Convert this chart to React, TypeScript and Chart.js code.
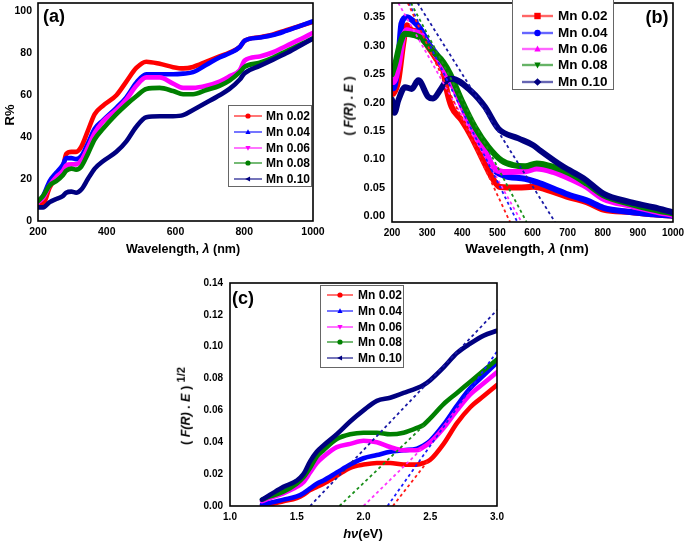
import React, { useEffect, useRef } from "react";
import { Chart, registerables } from "chart.js";
Chart.register(...registerables);

const FONT = "'Liberation Sans', Arial, Helvetica, sans-serif";

const seriesLabels = ["Mn 0.02", "Mn 0.04", "Mn 0.06", "Mn 0.08", "Mn 0.10"];
const seriesColors = ["#ff0000", "#0000ff", "#ff00ff", "#008000", "#000080"];
const tangentColors = ["#ff1a1a", "#1a1aff", "#ff33ff", "#1a8f1a", "#1a1aa6"];

// ---------- Panel (a): reflectance R% vs wavelength ----------
const wavelengthA = [200, 215, 234, 253, 273, 282, 297, 311, 326, 345, 365, 389, 428, 457, 486, 515, 554, 593, 622, 651, 690, 728, 757, 787, 801, 845, 884, 922, 961, 1000];
const reflA002 = [9, 8.5, 16, 21, 26, 32, 33, 33, 35.5, 43, 51, 55, 60, 66.5, 73, 76, 75, 73.4, 72.8, 73.5, 76, 78.5, 80.4, 83, 86, 87.7, 89, 91, 93, 95];
const reflA004 = [9, 12, 19, 23, 27, 30, 30, 29.5, 31, 37, 44, 48, 54, 59, 66, 70, 70, 70, 70.3, 71, 74.5, 78, 80, 83, 86, 87.5, 88.7, 90.7, 93, 95.3];
const reflA006 = [9, 11, 17, 21, 24, 26.5, 27, 27, 29, 35, 42, 47.5, 53, 58, 64.5, 68.5, 68.5, 65.5, 63.5, 63.5, 64.5, 66.5, 69, 72, 76.5, 78.5, 80.5, 83.5, 86.5, 89.8];
const reflA008 = [9.5, 12, 17, 19, 22, 24, 25, 24.5, 26, 32, 39, 44, 51, 55.5, 59.5, 63, 63.5, 62, 60.5, 60.5, 62.5, 64.5, 67, 71, 73.5, 75.5, 78, 81, 84, 87.2];
const reflA010 = [6.5, 6.5, 9, 10.5, 12, 13.5, 14, 13.5, 15, 20, 25, 28.5, 33, 38, 45, 49.5, 50, 50, 50.5, 53, 56.5, 60, 63, 67.5, 70.5, 74, 77, 80, 83.5, 87];

// ---------- Panel (b): F(R).E vs wavelength ----------
const wlB002 = [200, 204, 218, 232, 242, 256, 275, 303, 332, 346, 356, 370, 398, 427, 455, 484, 508, 560, 602, 659, 707, 754, 802, 878, 944, 1000];
const valB002 = [0.215, 0.216, 0.239, 0.304, 0.336, 0.327, 0.324, 0.298, 0.271, 0.257, 0.222, 0.192, 0.169, 0.139, 0.104, 0.069, 0.0515, 0.0505, 0.052, 0.043, 0.033, 0.025, 0.012, 0.0076, 0.0035, 0.001];
const wlB004 = [200, 204, 218, 227, 242, 261, 280, 303, 332, 356, 379, 408, 436, 465, 488, 517, 579, 612, 659, 707, 754, 802, 878, 944, 1000];
const valB004 = [0.225, 0.225, 0.274, 0.339, 0.35, 0.343, 0.33, 0.304, 0.28, 0.254, 0.227, 0.186, 0.151, 0.116, 0.084, 0.072, 0.066, 0.06, 0.049, 0.037, 0.028, 0.015, 0.0076, 0.0035, 0.001];
const wlB006 = [200, 204, 218, 232, 242, 261, 280, 303, 332, 356, 379, 408, 436, 465, 488, 517, 579, 612, 659, 707, 754, 802, 878, 944, 1000];
const valB006 = [0.236, 0.236, 0.263, 0.315, 0.327, 0.324, 0.321, 0.3, 0.277, 0.248, 0.222, 0.181, 0.145, 0.113, 0.087, 0.078, 0.079, 0.084, 0.078, 0.066, 0.0515, 0.031, 0.019, 0.0094, 0.0023];
const wlB008 = [200, 210, 223, 237, 266, 285, 313, 346, 365, 398, 436, 474, 512, 545, 579, 612, 659, 707, 754, 802, 878, 944, 1000];
const valB008 = [0.25, 0.27, 0.304, 0.321, 0.318, 0.312, 0.292, 0.271, 0.251, 0.204, 0.157, 0.122, 0.098, 0.09, 0.088, 0.093, 0.087, 0.075, 0.0575, 0.037, 0.022, 0.012, 0.005];
const wlB010 = [200, 207, 218, 237, 256, 275, 303, 317, 337, 356, 370, 427, 465, 503, 560, 602, 621, 688, 745, 802, 878, 944, 1000];
const valB010 = [0.205, 0.182, 0.204, 0.227, 0.224, 0.239, 0.21, 0.207, 0.222, 0.239, 0.242, 0.219, 0.192, 0.154, 0.137, 0.125, 0.116, 0.087, 0.067, 0.04, 0.025, 0.016, 0.007];
// tangent (extrapolation) lines in (b): wavelength at top and bottom of the axis
const tanBVals = [0.375, -0.01];
const tanBWl002 = [245, 536];
const tanBWl004 = [248, 557];
const tanBWl006 = [218, 569];
const tanBWl008 = [254, 583];
const tanBWl010 = [273, 664];

// ---------- Panel (c): (F(R).E)^1/2 vs photon energy ----------
const energyC = [1.24, 1.3, 1.4, 1.5, 1.55, 1.6, 1.65, 1.7, 1.8, 1.9, 2.0, 2.1, 2.2, 2.3, 2.4, 2.45, 2.5, 2.6, 2.7, 2.8, 2.9, 3.0];
const valC002 = [0.0005, 0.001, 0.003, 0.005, 0.007, 0.01, 0.012, 0.014, 0.019, 0.024, 0.026, 0.027, 0.027, 0.026, 0.026, 0.027, 0.029, 0.039, 0.052, 0.062, 0.069, 0.076];
const valC004 = [0.001, 0.002, 0.004, 0.006, 0.008, 0.011, 0.014, 0.016, 0.021, 0.026, 0.03, 0.032, 0.034, 0.035, 0.036, 0.038, 0.041, 0.051, 0.063, 0.074, 0.082, 0.09];
const valC006 = [0.003, 0.005, 0.008, 0.012, 0.015, 0.021, 0.027, 0.031, 0.037, 0.039, 0.041, 0.04, 0.037, 0.035, 0.035, 0.037, 0.04, 0.049, 0.06, 0.07, 0.077, 0.084];
const valC008 = [0.004, 0.006, 0.009, 0.014, 0.018, 0.024, 0.031, 0.035, 0.042, 0.045, 0.046, 0.046, 0.045, 0.046, 0.049, 0.051, 0.055, 0.064, 0.071, 0.078, 0.085, 0.092];
const valC010 = [0.004, 0.007, 0.012, 0.016, 0.02, 0.028, 0.034, 0.038, 0.045, 0.053, 0.06, 0.066, 0.068, 0.071, 0.074, 0.076, 0.079, 0.087, 0.096, 0.102, 0.107, 0.11];
const tanCE002 = [2.22, 2.48];
const tanCV002 = [0, 0.028];
const tanCE004 = [2.18, 3.0];
const tanCV004 = [0, 0.097];
const tanCE006 = [2.0, 2.45];
const tanCV006 = [0, 0.037];
const tanCE008 = [1.82, 2.47];
const tanCV008 = [0, 0.052];
const tanCE010 = [1.6, 3.0];
const tanCV010 = [0, 0.123];

// ---------- ticks ----------
const ticksAX = [200, 400, 600, 800, 1000];
const ticksAY = [0, 20, 40, 60, 80, 100];
const ticksBX = [200, 300, 400, 500, 600, 700, 800, 900, 1000];
const ticksBY = [0, 0.05, 0.1, 0.15, 0.2, 0.25, 0.3, 0.35];
const ticksCX = [1.0, 1.5, 2.0, 2.5, 3.0];
const ticksCY = [0, 0.02, 0.04, 0.06, 0.08, 0.1, 0.12, 0.14];

const pts = (xs: number[], ys: number[]) => xs.map((x, i) => ({ x, y: ys[i] }));

function drawMarker(ctx: CanvasRenderingContext2D, shape: string, x: number, y: number, r: number, color: string) {
  ctx.fillStyle = color;
  ctx.beginPath();
  if (shape === "circle") ctx.arc(x, y, r, 0, Math.PI * 2);
  else if (shape === "square") ctx.rect(x - r, y - r, 2 * r, 2 * r);
  else if (shape === "triUp") { ctx.moveTo(x, y - r * 1.1); ctx.lineTo(x + r, y + r * 0.8); ctx.lineTo(x - r, y + r * 0.8); }
  else if (shape === "triDown") { ctx.moveTo(x, y + r * 1.1); ctx.lineTo(x + r, y - r * 0.8); ctx.lineTo(x - r, y - r * 0.8); }
  else if (shape === "triLeft") { ctx.moveTo(x - r * 1.1, y); ctx.lineTo(x + r * 0.8, y - r); ctx.lineTo(x + r * 0.8, y + r); }
  else if (shape === "diamond") { ctx.moveTo(x, y - r * 1.2); ctx.lineTo(x + r * 1.2, y); ctx.lineTo(x, y + r * 1.2); ctx.lineTo(x - r * 1.2, y); }
  ctx.closePath();
  ctx.fill();
}

const framePlugin = {
  id: "frame",
  afterDatasetsDraw(chart: any) {
    const { ctx, chartArea } = chart;
    const { left, top, right, bottom } = chartArea;
    ctx.save();
    ctx.strokeStyle = "#000";
    ctx.lineWidth = 1.6;
    ctx.strokeRect(left, top, right - left, bottom - top);
    ctx.restore();
  },
};

const boxLegendPlugin = {
  id: "boxLegend",
  afterDraw(chart: any, _args: any, o: any) {
    if (!o || !o.rows) return;
    const ctx: CanvasRenderingContext2D = chart.ctx;
    ctx.save();
    ctx.fillStyle = "#fff";
    ctx.fillRect(o.x, o.y, o.w, o.h);
    ctx.strokeStyle = "#666";
    ctx.lineWidth = 1;
    ctx.strokeRect(o.x + 0.5, o.y + 0.5, o.w, o.h);
    for (let i = 0; i < seriesLabels.length; i++) {
      const y = o.rows[i];
      ctx.globalAlpha = o.lineAlpha;
      ctx.strokeStyle = seriesColors[i];
      ctx.lineWidth = o.lineWidth;
      ctx.beginPath();
      ctx.moveTo(o.lineX0, y);
      ctx.lineTo(o.lineX1, y);
      ctx.stroke();
      ctx.globalAlpha = 1;
      drawMarker(ctx, o.markers[i], (o.lineX0 + o.lineX1) / 2, y, o.markerSize, seriesColors[i]);
      ctx.fillStyle = "#000";
      ctx.font = o.font;
      ctx.textBaseline = "middle";
      ctx.textAlign = "left";
      ctx.fillText(seriesLabels[i], o.textX, y + 0.5);
    }
    ctx.restore();
  },
};

function axis(min: number, max: number, ticks: number[], digits: number, pad: number, size: number, horizontal: boolean, fontSize: number) {
  return {
    type: "linear",
    min,
    max,
    grid: { display: false, drawTicks: false, tickLength: 0 },
    border: { display: false },
    ticks: {
      padding: pad,
      color: "#000",
      autoSkip: false,
      maxRotation: 0,
      font: { family: FONT, size: fontSize, weight: "bold" },
      callback: (v: number) => Number(v).toFixed(digits),
    },
    afterBuildTicks: (s: any) => {
      s.ticks = ticks.map((v) => ({ value: v }));
    },
    afterFit: (s: any) => {
      if (horizontal) s.height = size;
      else s.width = size;
      s.paddingTop = 0;
      s.paddingBottom = 0;
      s.paddingLeft = 0;
      s.paddingRight = 0;
    },
  };
}

function curve(label: string, data: any[], color: string, width: number, order: number) {
  return {
    label,
    data,
    borderColor: color,
    backgroundColor: color,
    borderWidth: width,
    pointRadius: 0,
    fill: false,
    cubicInterpolationMode: "monotone",
    borderCapStyle: "round",
    borderJoinStyle: "round",
    order,
  };
}

function tangent(data: any[], color: string) {
  return {
    label: "",
    data,
    borderColor: color,
    borderWidth: 1.8,
    borderDash: [3, 3],
    pointRadius: 0,
    fill: false,
    tension: 0,
    order: 0,
  };
}

function baseOptions(padding: any, scales: any, legend: any) {
  return {
    responsive: false,
    animation: false,
    devicePixelRatio: 1,
    layout: { padding },
    events: [],
    plugins: { legend: { display: false }, tooltip: { enabled: false }, boxLegend: legend },
    scales,
  };
}

function configA() {
  const ys = [reflA002, reflA004, reflA006, reflA008, reflA010];
  return {
    type: "line",
    data: { datasets: ys.map((y, i) => curve(seriesLabels[i], pts(wavelengthA, y), seriesColors[i], 4.6, 10 - i)) },
    options: baseOptions(
      { left: 0, top: 3, right: 27, bottom: 0 },
      { x: axis(200, 1000, ticksAX, 0, 5, 39, true, 10.5), y: axis(0, 104, ticksAY, 0, 6, 38, false, 10.5) },
      { x: 228, y: 105, w: 83, h: 81, rows: [116, 132, 148, 163, 179], lineX0: 234, lineX1: 262, textX: 266, markerSize: 2.6, lineWidth: 1.2, lineAlpha: 0.9, font: `bold 12px ${FONT}`, markers: ["circle", "triUp", "triDown", "circle", "triLeft"] }
    ),
    plugins: [framePlugin, boxLegendPlugin],
  };
}

function configB() {
  const xs = [wlB002, wlB004, wlB006, wlB008, wlB010];
  const ys = [valB002, valB004, valB006, valB008, valB010];
  const tans = [tanBWl002, tanBWl004, tanBWl006, tanBWl008, tanBWl010];
  const ox = 330;
  return {
    type: "line",
    data: {
      datasets: [
        ...ys.map((y, i) => curve(seriesLabels[i], pts(xs[i], y), seriesColors[i], 6, 10 - i)),
        ...tans.map((t, i) => tangent(pts(t, tanBVals), tangentColors[i])),
      ],
    },
    options: baseOptions(
      { left: 0, top: 3, right: 12, bottom: 0 },
      { x: axis(200, 1000, ticksBX, 0, 5, 38, true, 10), y: axis(-0.01, 0.375, ticksBY, 2, 7, 62, false, 11) },
      { x: 512 - ox, y: -1, w: 101, h: 90, rows: [16, 33, 49, 65, 82], lineX0: 522 - ox, lineX1: 553 - ox, textX: 558 - ox, markerSize: 3.2, lineWidth: 2.4, lineAlpha: 0.6, font: `bold 13.5px ${FONT}`, markers: ["square", "circle", "triUp", "triDown", "diamond"] }
    ),
    plugins: [framePlugin, boxLegendPlugin],
  };
}

function configC() {
  const ys = [valC002, valC004, valC006, valC008, valC010];
  const tx = [tanCE002, tanCE004, tanCE006, tanCE008, tanCE010];
  const ty = [tanCV002, tanCV004, tanCV006, tanCV008, tanCV010];
  const ox = 170;
  const oy = 270;
  return {
    type: "line",
    data: {
      datasets: [
        ...ys.map((y, i) => curve(seriesLabels[i], pts(energyC, y), seriesColors[i], 4.6, 10 - i)),
        ...tx.map((t, i) => tangent(pts(t, ty[i]), tangentColors[i])),
      ],
    },
    options: baseOptions(
      { left: 0, top: 13, right: 13, bottom: 0 },
      { x: axis(1.0, 3.0, ticksCX, 1, 5, 36, true, 10), y: axis(0, 0.14, ticksCY, 2, 7, 60, false, 10) },
      { x: 320 - ox, y: 285 - oy, w: 83, h: 82, rows: [295 - oy, 311 - oy, 327 - oy, 342 - oy, 358 - oy], lineX0: 327 - ox, lineX1: 353 - ox, textX: 358 - ox, markerSize: 2.6, lineWidth: 1.2, lineAlpha: 0.9, font: `bold 12px ${FONT}`, markers: ["circle", "triUp", "triDown", "circle", "triLeft"] }
    ),
    plugins: [framePlugin, boxLegendPlugin],
  };
}

function Panel(props: { left: number; top: number; width: number; height: number; make: () => any }) {
  const ref = useRef<HTMLCanvasElement | null>(null);
  useEffect(() => {
    const chart = new Chart(ref.current as HTMLCanvasElement, props.make() as any);
    return () => chart.destroy();
  }, []);
  return (
    <canvas
      ref={ref}
      width={props.width}
      height={props.height}
      style={{ position: "absolute", left: props.left, top: props.top, width: props.width, height: props.height }}
    />
  );
}

function Label(props: { x: number; y: number; size: number; rotate?: boolean; children: any }) {
  return (
    <div
      style={{
        position: "absolute",
        left: props.x,
        top: props.y,
        transform: `translate(-50%, -50%)${props.rotate ? " rotate(-90deg)" : ""}`,
        fontFamily: FONT,
        fontWeight: "bold",
        fontSize: props.size,
        lineHeight: 1,
        whiteSpace: "nowrap",
        color: "#000",
      }}
    >
      {props.children}
    </div>
  );
}

export default function App() {
  return (
    <div style={{ position: "absolute", left: 0, top: 0, width: 685, height: 542, background: "#fff", overflow: "hidden" }}>
      <Panel left={0} top={0} width={340} height={260} make={configA} />
      <Panel left={330} top={0} width={355} height={260} make={configB} />
      <Panel left={170} top={270} width={340} height={272} make={configC} />

      <Label x={54} y={16} size={18}>(a)</Label>
      <Label x={657} y={17} size={18}>(b)</Label>
      <Label x={243} y={298} size={18}>(c)</Label>

      <Label x={9} y={115} size={13} rotate>R%</Label>
      <Label x={183} y={249} size={12.5}>
        Wavelength, <i>λ</i> (nm)
      </Label>

      <Label x={349} y={106} size={12.5} rotate>
        ( <i>F(R)</i> . <i>E</i> )
      </Label>
      <Label x={527} y={249} size={13.5}>
        Wavelength, <i>λ</i> (nm)
      </Label>

      <Label x={184} y={406} size={12.5} rotate>
        ( <i>F(R)</i> . <i>E</i> ) <sup style={{ fontSize: 11, verticalAlign: "0.45em" }}>1/2</sup>
      </Label>
      <Label x={363} y={533} size={13}>
        <i>hν</i>(eV)
      </Label>
    </div>
  );
}
